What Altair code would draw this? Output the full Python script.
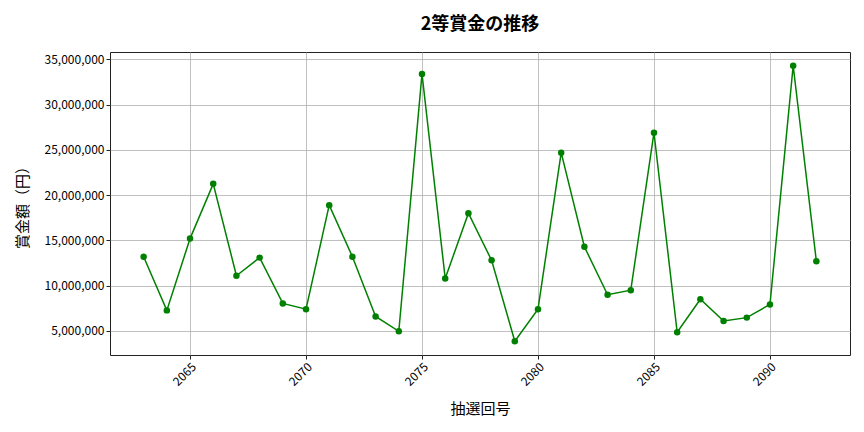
import altair as alt
import pandas as pd

draws = list(range(2063, 2093))
prizes = [13200000, 7270000, 15200000, 21250000, 11100000, 13100000, 8040000, 7400000,
          18900000, 13200000, 6600000, 4960000, 33400000, 10800000, 18000000, 12800000,
          3860000, 7400000, 24700000, 14300000, 9000000, 9500000, 26900000, 4850000,
          8500000, 6100000, 6470000, 7930000, 34300000, 12700000]
x_ticks = [2065, 2070, 2075, 2080, 2085, 2090]
y_ticks = [5000000, 10000000, 15000000, 20000000, 25000000, 30000000, 35000000]

df = pd.DataFrame({"draw": draws, "prize": prizes})

FONT = "Noto Sans CJK JP"

x = alt.X("draw:Q", title="抽選回号",
          scale=alt.Scale(domain=[2061.55, 2093.45], nice=False, zero=False),
          axis=alt.Axis(values=x_ticks, format="d", labelAngle=-45, labelAlign="right",
                        labelBaseline="top", titlePadding=14))
y = alt.Y("prize:Q", title="賞金額（円）",
          scale=alt.Scale(domain=[2340000, 35820000], nice=False, zero=False),
          axis=alt.Axis(values=y_ticks, format=",d", titlePadding=14))

base = alt.Chart(df)
line = base.mark_line(color="green", strokeWidth=1.5).encode(x=x, y=y)
pts = base.mark_circle(color="green", size=42, opacity=1).encode(x=x, y=y)

chart = (line + pts).properties(
    width=740, height=303,
    title=alt.TitleParams("2等賞金の推移", fontSize=18, fontWeight="bold", font=FONT,
                          color="black", anchor="middle", offset=18),
    autosize=alt.AutoSizeParams(type="none"),
    padding={"left": 102, "top": 44, "right": 6, "bottom": 72},
).configure_view(
    stroke="#222", strokeWidth=1
).configure_axis(
    domain=False, grid=True, gridColor="#b0b0b0", gridWidth=0.8,
    tickColor="#222", tickSize=4, labelFont=FONT, labelFontSize=12, labelColor="black",
    titleFont=FONT, titleFontSize=15, titleFontWeight="normal", titleColor="black"
)

chart.save("out.html", embed_options={"renderer": "svg", "actions": False})
